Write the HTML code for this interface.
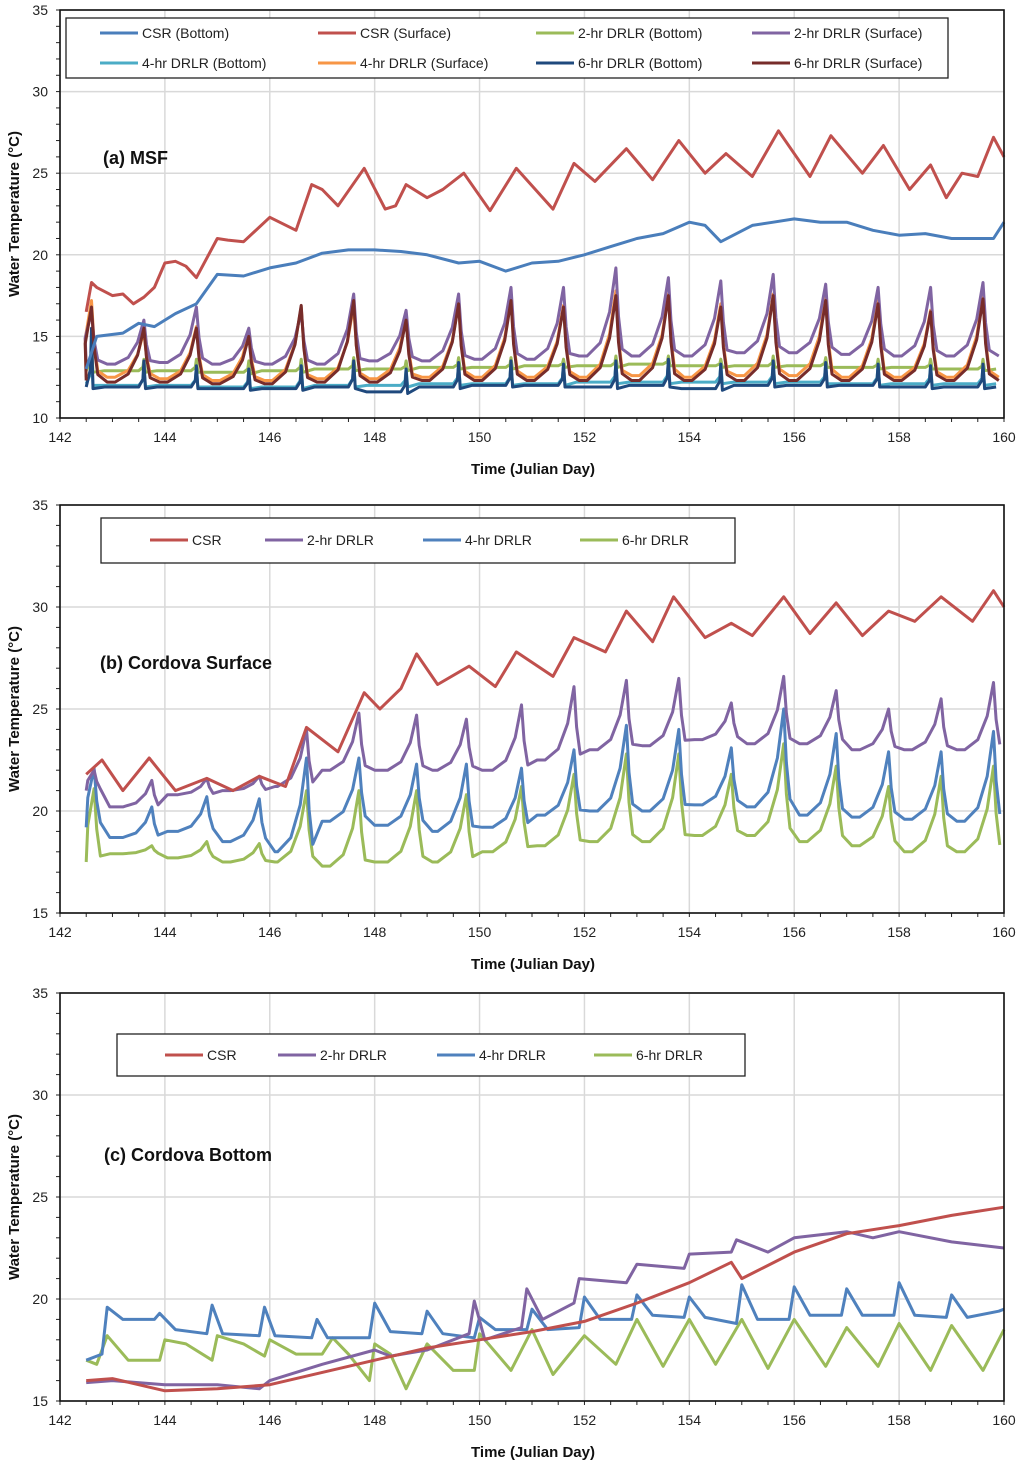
<!DOCTYPE html>
<html><head><meta charset="utf-8">
<style>
body{margin:0;background:#fff;}
svg text{font-family:"Liberation Sans",Arial,sans-serif;}
</style></head>
<body>
<svg id="chart" width="1024" height="1469" viewBox="0 0 1024 1469" xmlns="http://www.w3.org/2000/svg"></svg>
<script>
// ---------- Data ----------
const xTicks = [142,144,146,148,150,152,154,156,158,160];
const yTicksTop = [10,15,20,25,30,35];
const yTicksLow = [15,20,25,30,35];

// Panel (a) MSF
const aCsrSurface = [[142.5,16.5],[142.6,18.3],[142.7,18],[143,17.5],[143.2,17.6],[143.4,17],[143.6,17.4],[143.8,18],[144,19.5],[144.2,19.6],[144.4,19.3],[144.6,18.6],[145,21],[145.2,20.9],[145.5,20.8],[146,22.3],[146.5,21.5],[146.8,24.3],[147,24],[147.3,23],[147.8,25.3],[148.2,22.8],[148.4,23],[148.6,24.3],[149,23.5],[149.3,24],[149.7,25],[150.2,22.7],[150.7,25.3],[151.4,22.8],[151.8,25.6],[152.2,24.5],[152.8,26.5],[153.3,24.6],[153.8,27],[154.3,25],[154.7,26.2],[155.2,24.8],[155.7,27.6],[156.3,24.8],[156.7,27.3],[157.3,25],[157.7,26.7],[158.2,24],[158.6,25.5],[158.9,23.5],[159.2,25],[159.5,24.8],[159.8,27.2],[160,26]];
const aCsrBottom = [[142.5,13],[142.7,15],[143.2,15.2],[143.5,15.8],[143.8,15.6],[144.2,16.4],[144.6,17],[145,18.8],[145.5,18.7],[146,19.2],[146.5,19.5],[147,20.1],[147.5,20.3],[148,20.3],[148.5,20.2],[149,20],[149.6,19.5],[150,19.6],[150.5,19],[151,19.5],[151.5,19.6],[152,20],[152.5,20.5],[153,21],[153.5,21.3],[154,22],[154.3,21.8],[154.6,20.8],[155.2,21.8],[155.6,22],[156,22.2],[156.5,22],[157,22],[157.5,21.5],[158,21.2],[158.5,21.3],[159,21],[159.8,21],[160,22]];
const aPeakDays = [142.6,143.6,144.6,145.6,146.6,147.6,148.6,149.6,150.6,151.6,152.6,153.6,154.6,155.6,156.6,157.6,158.6,159.6];
const a2hrSurfPeak = [16.5,16,16.8,15.5,16.5,17.6,16.6,17.6,18,18,19.2,18.6,18.4,18.8,18.2,18,18,18.3];
const a2hrSurfBase = [13.3,13.3,13.4,13.3,13.3,13.3,13.5,13.5,13.6,13.6,13.8,13.8,13.8,14,14,13.9,13.8,13.8];
const a6hrSurfPeak = [16.8,15.5,15.5,15,16.9,17.2,16,17,17.2,16.8,17.5,17.5,16.8,17.5,17.2,17,16.5,17.3];
const a6hrSurfBase = [12.3,12.2,12.2,12.1,12.1,12.2,12.2,12.3,12.3,12.3,12.3,12.3,12.3,12.3,12.3,12.3,12.3,12.3];
const a4hrSurfPeak = [17.2,15.3,15.6,15.2,16.8,16.9,16.2,17,17.3,16.9,17.8,17.6,17,17.6,17.4,17.2,16.6,17.5];
const a4hrSurfBase = [12.5,12.5,12.4,12.3,12.3,12.4,12.4,12.5,12.5,12.5,12.5,12.6,12.5,12.6,12.6,12.5,12.5,12.5];
const a2hrBotPeak = [14.5,13.6,13.6,13.5,13.6,13.7,13.5,13.7,13.7,13.6,13.8,13.8,13.6,13.8,13.7,13.6,13.6,13.6];
const a2hrBotBase = [12.9,12.9,12.9,12.8,12.9,13,13,13.1,13.1,13.2,13.2,13.3,13.2,13.2,13.2,13.1,13.1,13];
const a4hrBotPeak = [14,13,13.1,13,13.2,13.3,13,13.3,13.4,13.3,13.4,13.5,13.3,13.4,13.3,13.3,13.2,13.2];
const a4hrBotBase = [12.1,12,12,11.9,11.9,12,12,12.1,12.1,12.1,12.2,12.2,12.2,12.2,12.2,12.1,12.1,12.1];
const a6hrBotPeak = [15.5,13.5,13.2,13,13.2,13.5,13,13.4,13.5,13.3,13.5,13.6,13.3,13.5,13.4,13.3,13.2,13.3];
const a6hrBotBase = [11.9,11.9,11.9,11.8,11.8,11.9,11.6,11.9,12,12,11.9,12,11.8,12,12,12,11.9,11.9];

// Panel (b) Cordova Surface
const bCsr = [[142.5,21.8],[142.8,22.5],[143.2,21],[143.7,22.6],[144.2,21],[144.8,21.6],[145.3,21],[145.8,21.7],[146.3,21.2],[146.7,24.1],[147.3,22.9],[147.8,25.8],[148.1,25],[148.5,26],[148.8,27.7],[149.2,26.2],[149.8,27.1],[150.3,26.1],[150.7,27.8],[151.4,26.6],[151.8,28.5],[152.4,27.8],[152.8,29.8],[153.3,28.3],[153.7,30.5],[154.3,28.5],[154.8,29.2],[155.2,28.6],[155.8,30.5],[156.3,28.7],[156.8,30.2],[157.3,28.6],[157.8,29.8],[158.3,29.3],[158.8,30.5],[159.4,29.3],[159.8,30.8],[160,30]];
const bPeakDays = [142.65,143.75,144.8,145.8,146.7,147.7,148.8,149.75,150.8,151.8,152.8,153.8,154.8,155.8,156.8,157.8,158.8,159.8];
const b2hrPeak = [22,21.5,21.6,21.7,24,24.8,24.7,24.5,25.2,26.1,26.4,26.5,25.3,26.6,25.9,25,25.5,26.3];
const b2hrBase = [21,20.2,20.8,21,21.2,22,22,22,22,22.5,23,23.2,23.5,23.3,23.3,23,23,23];
const b4hrPeak = [22.1,20.2,20.7,20.6,22.6,22.6,22.3,22.3,22.1,23,24.2,24,23.1,25,23.8,22.9,22.9,23.9];
const b4hrBase = [19.2,18.7,19,18.5,18,19.5,19.3,19,19.2,19.8,20,20,20.3,20.2,19.8,19.7,19.6,19.5];
const b6hrPeak = [21.1,18.3,18.5,18.4,21,21,21,20.8,21.2,21.8,22.8,22.8,21.8,23.3,22.2,21.2,21.7,22.2];
const b6hrBase = [17.5,17.9,17.7,17.5,17.5,17.3,17.5,17.5,18,18.3,18.5,18.5,18.8,18.8,18.5,18.3,18,18];

// Panel (c) Cordova Bottom
const cCsr = [[142.5,16],[143,16.1],[144,15.5],[145,15.6],[146,15.8],[147,16.4],[148,17],[149,17.6],[150,18],[151,18.4],[152,18.9],[153,19.8],[154,20.8],[154.8,21.8],[155,21],[156,22.3],[157,23.2],[158,23.6],[159,24.1],[160,24.5]];
const c2hr = [[142.5,15.9],[143,16],[144,15.8],[145,15.8],[145.8,15.6],[146,16],[147,16.8],[148,17.5],[148.3,17.2],[149,17.5],[149.8,18.3],[149.9,19.9],[150.1,18],[150.8,18.6],[150.9,20.5],[151.2,19],[151.8,19.8],[151.9,21],[152.8,20.8],[153,21.7],[153.9,21.5],[154,22.2],[154.8,22.3],[154.9,22.9],[155.5,22.3],[156,23],[157,23.3],[157.5,23],[158,23.3],[159,22.8],[160,22.5]];
const c4hr = [[142.5,17],[142.8,17.3],[142.9,19.6],[143.2,19],[143.8,19],[143.9,19.3],[144.2,18.5],[144.8,18.3],[144.9,19.7],[145.1,18.3],[145.8,18.2],[145.9,19.6],[146.1,18.2],[146.8,18.1],[146.9,19],[147.1,18.1],[147.9,18.1],[148,19.8],[148.3,18.4],[148.9,18.3],[149,19.4],[149.3,18.3],[149.9,18.1],[150,19.1],[150.3,18.5],[150.9,18.5],[151,19.5],[151.3,18.5],[151.9,18.6],[152,20.1],[152.3,19],[152.9,19],[153,20.2],[153.3,19.2],[153.9,19.1],[154,20.1],[154.3,19.1],[154.9,18.8],[155,20.7],[155.3,19],[155.9,19],[156,20.6],[156.3,19.2],[156.9,19.2],[157,20.5],[157.3,19.2],[157.9,19.2],[158,20.8],[158.3,19.2],[158.9,19.1],[159,20.2],[159.3,19.1],[159.9,19.4],[160,19.5]];
const c6hr = [[142.5,17],[142.7,16.8],[142.9,18.2],[143.3,17],[143.9,17],[144,18],[144.4,17.8],[144.9,17],[145,18.2],[145.5,17.8],[145.9,17.2],[146,18],[146.5,17.3],[147,17.3],[147.2,18.1],[147.5,17.3],[147.9,16],[148,17.8],[148.3,17.3],[148.6,15.6],[149,17.8],[149.5,16.5],[149.9,16.5],[150,18.3],[150.6,16.5],[151,18.5],[151.4,16.3],[152,18.2],[152.6,16.8],[153,19],[153.5,16.7],[154,19],[154.5,16.8],[155,19],[155.5,16.6],[156,19],[156.6,16.7],[157,18.6],[157.6,16.7],[158,18.8],[158.6,16.5],[159,18.7],[159.6,16.5],[160,18.5]];

// ---------- Drawing ----------
const NS="http://www.w3.org/2000/svg";
const svg=document.getElementById('chart');
function mk(tag,attrs,parent){const e=document.createElementNS(NS,tag);for(const k in attrs)e.setAttribute(k,attrs[k]);(parent||svg).appendChild(e);return e;}

const X0=60,X1=1004;
function xs(v){return X0+(v-142)/(160-142)*(X1-X0);}

function periodic(peakDays,peaks,bases,start,narrow){
  const pts=[[start,bases[0]]];
  for(let i=0;i<peakDays.length;i++){
    const p=peakDays[i],b=bases[i],nb=bases[Math.min(i+1,bases.length-1)],h=peaks[i]-b;
    if(narrow){
      if(p-0.1>start) pts.push([p-0.1,b]);
      pts.push([p-0.02,b+h*0.3]);
      pts.push([p,peaks[i]]);
      pts.push([p+0.03,b-0.1]);
      pts.push([p+0.25,nb]);
    } else {
      if(p-0.55>start) pts.push([p-0.55,b]);
      if(p-0.3>start) pts.push([p-0.3,b+h*0.15]);
      pts.push([p-0.12,b+h*0.5]);
      pts.push([p,peaks[i]]);
      pts.push([p+0.05,b+h*0.45]);
      pts.push([p+0.12,b+h*0.08]);
      pts.push([p+0.3,nb]);
    }
  }
  return pts.filter(q=>q[0]<=160);
}

function panel(cfg){
  const g=mk('g',{});
  
  
  const ymin=cfg.ymin,ymax=35,Y0=cfg.top,Y1=cfg.top+408;
  const ys=v=>Y1-(v-ymin)/(ymax-ymin)*(Y1-Y0);
  xTicks.forEach(t=>{const l=mk('line',{x1:xs(t),x2:xs(t),y1:Y0,y2:Y1,stroke:'#d9d9d9','stroke-width':1.5},g);
    });
  cfg.yTicks.forEach(t=>{const l=mk('line',{x1:X0,x2:X1,y1:ys(t),y2:ys(t),stroke:'#d9d9d9','stroke-width':1.5},g);
    });
  // minor ticks
  for(let t=142;t<=160;t+=0.5){const l=mk('line',{x1:xs(t),x2:xs(t),y1:Y1,y2:Y1+4,stroke:'#222','stroke-width':1},g);
    }
  for(let v=ymin;v<=35;v+=1){const l=mk('line',{x1:X0-4,x2:X0,y1:ys(v),y2:ys(v),stroke:'#222','stroke-width':1},g);
    }
  cfg.series.forEach(s=>{
    const d=s.pts.map((p,i)=>(i?'L':'M')+xs(p[0]).toFixed(1)+','+ys(p[1]).toFixed(1)).join('');
    const path=mk('path',{d:d,fill:'none',stroke:s.color,'stroke-width':3,'stroke-linejoin':'round'},g);
    
    
  });
  const fr=mk('rect',{x:X0,y:Y0,width:X1-X0,height:Y1-Y0,fill:'none',stroke:'#111','stroke-width':1.6},g);
  
  xTicks.forEach(t=>{const tx=mk('text',{x:xs(t),y:Y1+24,'font-size':14,'text-anchor':'middle',fill:'#222'},g);tx.textContent=t;
    });
  cfg.yTicks.forEach(t=>{const tx=mk('text',{x:48,y:ys(t)+5,'font-size':14,'text-anchor':'end',fill:'#222'},g);tx.textContent=t;
    });
  const xt=mk('text',{x:533,y:Y1+56,'font-size':15,'font-weight':'bold','text-anchor':'middle',fill:'#111'},g);xt.textContent='Time (Julian Day)';
  
  const cy=(Y0+Y1)/2;
  const yt=mk('text',{x:19,y:cy,'font-size':15,'font-weight':'bold','text-anchor':'middle',fill:'#111',transform:`rotate(-90 19 ${cy})`},g);yt.textContent='Water Temperature (°C)';
  
  const pt=mk('text',{x:cfg.titleX,y:cfg.titleY,'font-size':18,'font-weight':'bold',fill:'#111'},g);pt.textContent=cfg.title;
  
  const L=cfg.legend;
  const lb=mk('rect',{x:L.x,y:L.y,width:L.w,height:L.h,fill:'#fff',stroke:'#222','stroke-width':1.3},g);
  
  L.items.forEach(it=>{
    const s=cfg.series.find(q=>q.id===it.id);
    const ll=mk('line',{x1:it.x,x2:it.x+38,y1:it.y,y2:it.y,stroke:s.color,'stroke-width':3},g);
    
    const lt=mk('text',{x:it.x+42,y:it.y+5,'font-size':14,fill:'#222'},g);lt.textContent=s.label;
    
  });
}

panel({name:'panel-a-msf',top:10,ymin:10,yTicks:yTicksTop,title:'(a) MSF',titleX:103,titleY:164,
 series:[
  {id:'a-2hr-bottom',label:'2-hr DRLR (Bottom)',color:'#9bbb59',pts:periodic(aPeakDays,a2hrBotPeak,a2hrBotBase,142.5,true)},
  {id:'a-4hr-bottom',label:'4-hr DRLR (Bottom)',color:'#4bacc6',pts:periodic(aPeakDays,a4hrBotPeak,a4hrBotBase,142.5,true)},
  {id:'a-6hr-bottom',label:'6-hr DRLR (Bottom)',color:'#1f497d',pts:periodic(aPeakDays,a6hrBotPeak,a6hrBotBase,142.5,true)},
  {id:'a-4hr-surface',label:'4-hr DRLR (Surface)',color:'#f79646',pts:periodic(aPeakDays,a4hrSurfPeak,a4hrSurfBase,142.5,false)},
  {id:'a-2hr-surface',label:'2-hr DRLR (Surface)',color:'#8064a2',pts:periodic(aPeakDays,a2hrSurfPeak,a2hrSurfBase,142.5,false)},
  {id:'a-6hr-surface',label:'6-hr DRLR (Surface)',color:'#772c2a',pts:periodic(aPeakDays,a6hrSurfPeak,a6hrSurfBase,142.5,false)},
  {id:'a-csr-bottom',label:'CSR (Bottom)',color:'#4a7ebb',pts:aCsrBottom},
  {id:'a-csr-surface',label:'CSR (Surface)',color:'#c0504d',pts:aCsrSurface}],
 legend:{x:66,y:18,w:882,h:60,items:[
  {id:'a-csr-bottom',x:100,y:33},{id:'a-csr-surface',x:318,y:33},{id:'a-2hr-bottom',x:536,y:33},{id:'a-2hr-surface',x:752,y:33},
  {id:'a-4hr-bottom',x:100,y:63},{id:'a-4hr-surface',x:318,y:63},{id:'a-6hr-bottom',x:536,y:63},{id:'a-6hr-surface',x:752,y:63}]}
});

panel({name:'panel-b-cordova-surface',top:505,ymin:15,yTicks:yTicksLow,title:'(b) Cordova Surface',titleX:100,titleY:669,
 series:[
  {id:'b-6hr',label:'6-hr DRLR',color:'#9bbb59',pts:periodic(bPeakDays,b6hrPeak,b6hrBase,142.5,false)},
  {id:'b-4hr',label:'4-hr DRLR',color:'#4f81bd',pts:periodic(bPeakDays,b4hrPeak,b4hrBase,142.5,false)},
  {id:'b-2hr',label:'2-hr DRLR',color:'#8064a2',pts:periodic(bPeakDays,b2hrPeak,b2hrBase,142.5,false)},
  {id:'b-csr',label:'CSR',color:'#c0504d',pts:bCsr}],
 legend:{x:101,y:518,w:634,h:45,items:[{id:'b-csr',x:150,y:540},{id:'b-2hr',x:265,y:540},{id:'b-4hr',x:423,y:540},{id:'b-6hr',x:580,y:540}]}
});

panel({name:'panel-c-cordova-bottom',top:993,ymin:15,yTicks:yTicksLow,title:'(c) Cordova Bottom',titleX:104,titleY:1161,
 series:[
  {id:'c-6hr',label:'6-hr DRLR',color:'#9bbb59',pts:c6hr},
  {id:'c-4hr',label:'4-hr DRLR',color:'#4f81bd',pts:c4hr},
  {id:'c-2hr',label:'2-hr DRLR',color:'#8064a2',pts:c2hr},
  {id:'c-csr',label:'CSR',color:'#c0504d',pts:cCsr}],
 legend:{x:117,y:1034,w:628,h:42,items:[{id:'c-csr',x:165,y:1055},{id:'c-2hr',x:278,y:1055},{id:'c-4hr',x:437,y:1055},{id:'c-6hr',x:594,y:1055}]}
});
</script>
</body></html>
